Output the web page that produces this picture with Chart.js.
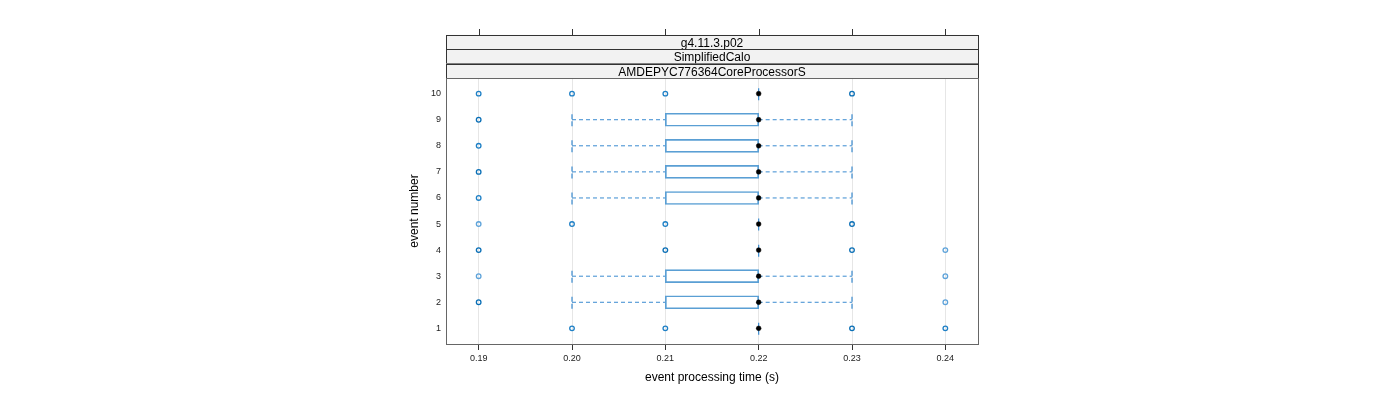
<!DOCTYPE html>
<html>
<head>
<meta charset="utf-8">
<script src="https://cdn.jsdelivr.net/npm/chart.js@4.4.1/dist/chart.umd.min.js"></script>
<style>
  body { margin: 0; background: #fff; }
  #wrap { width: 1400px; height: 400px; }
</style>
</head>
<body>
<div id="wrap"><canvas id="bw"></canvas></div>
<script>
// panel strips, outermost first
const stripLabels = ["g4.11.3.p02", "SimplifiedCalo", "AMDEPYC776364CoreProcessorS"];

const events = [1, 2, 3, 4, 5, 6, 7, 8, 9, 10];
const q1 = [0.22, 0.21, 0.21, 0.22, 0.22, 0.21, 0.21, 0.21, 0.21, 0.22];
const q3 = [0.22, 0.22, 0.22, 0.22, 0.22, 0.22, 0.22, 0.22, 0.22, 0.22];
const medians = [0.22, 0.22, 0.22, 0.22, 0.22, 0.22, 0.22, 0.22, 0.22, 0.22];
const whiskerLow = [0.22, 0.20, 0.20, 0.22, 0.22, 0.20, 0.20, 0.20, 0.20, 0.22];
const whiskerHigh = [0.22, 0.23, 0.23, 0.22, 0.22, 0.23, 0.23, 0.23, 0.23, 0.22];

// outliers: event, value, how many runs land on it
const outlierEvent = [1, 1, 1, 1, 2, 2, 3, 3, 4, 4, 4, 4, 5, 5, 5, 5, 6, 7, 8, 9, 10, 10, 10, 10];
const outlierValue = [0.20, 0.21, 0.23, 0.24, 0.19, 0.24, 0.19, 0.24, 0.19, 0.21, 0.23, 0.24,
                      0.19, 0.20, 0.21, 0.23, 0.19, 0.19, 0.19, 0.19, 0.19, 0.20, 0.21, 0.23];
const outlierCount = [2, 2, 3, 2, 3, 1, 1, 1, 3, 3, 3, 1, 1, 2, 2, 3, 2, 3, 2, 3, 2, 2, 2, 3];

const xTicks = [0.19, 0.20, 0.21, 0.22, 0.23, 0.24];
const xRange = [0.1865, 0.2435];
const yRange = [0.4, 10.6];

const FONT = "'Liberation Sans', Arial, sans-serif";
const STAPLE = 0.25;
const BOX_COL = "#5a9fd4";
const WHISK_COL = "#3a8bd0";

const boxData = [];
const whiskerData = [];
const stapleData = [];
events.forEach((ev, i) => {
  if (q3[i] > q1[i]) boxData.push({ x: [q1[i], q3[i]], y: ev });
  if (whiskerLow[i] < q1[i]) {
    whiskerData.push({ x: whiskerLow[i], y: ev }, { x: q1[i], y: ev }, { x: null, y: null });
  }
  if (whiskerHigh[i] > q3[i]) {
    whiskerData.push({ x: q3[i], y: ev }, { x: whiskerHigh[i], y: ev }, { x: null, y: null });
  }
  const ends = whiskerLow[i] === whiskerHigh[i] ? [whiskerLow[i]] : [whiskerLow[i], whiskerHigh[i]];
  ends.forEach(w => {
    stapleData.push({ x: w, y: ev - STAPLE }, { x: w, y: ev + STAPLE }, { x: null, y: null });
  });
});

const outlierColor = c => (c >= 3 ? "#0a6fb6" : c === 2 ? "#1f80c6" : "#5ea3da");

const panelDecor = {
  id: "panelDecor",
  afterDraw(chart) {
    const { ctx, chartArea: a } = chart;
    const xs = chart.scales.x;
    const sh = 14.4;
    const top = a.top - sh * stripLabels.length;
    ctx.save();
    ctx.lineWidth = 1;
    stripLabels.forEach((lab, i) => {
      const y0 = top + i * sh;
      ctx.fillStyle = "#f2f2f2";
      ctx.fillRect(a.left, y0, a.right - a.left, sh);
      ctx.strokeStyle = "#333";
      ctx.strokeRect(Math.round(a.left) + 0.5, Math.round(y0) + 0.5, Math.round(a.right - a.left), Math.round(sh));
      ctx.fillStyle = "#000";
      ctx.font = "12px " + FONT;
      ctx.textAlign = "center";
      ctx.textBaseline = "middle";
      ctx.fillText(lab, (a.left + a.right) / 2, y0 + sh / 2 + 1.5);
    });
    ctx.strokeStyle = "#666";
    ctx.strokeRect(Math.round(a.left) + 0.5, Math.round(a.top) + 0.5,
                   Math.round(a.right - a.left), Math.round(a.bottom - a.top));
    ctx.strokeStyle = "#333";
    ctx.beginPath();
    xTicks.forEach(t => {
      const px = Math.round(xs.getPixelForValue(t)) + 0.5;
      ctx.moveTo(px, Math.round(top) - 6);
      ctx.lineTo(px, Math.round(top));
    });
    ctx.stroke();
    ctx.restore();
  }
};

new Chart(document.getElementById("bw"), {
  type: "scatter",
  data: {
    datasets: [
      {
        label: "outliers",
        data: outlierValue.map((v, i) => ({ x: v, y: outlierEvent[i] })),
        pointRadius: 2.3,
        pointBorderWidth: 1.3,
        pointBackgroundColor: "rgba(255,255,255,0)",
        pointBorderColor: outlierCount.map(outlierColor),
      },
      {
        label: "median",
        data: medians.map((m, i) => ({ x: m, y: events[i] })),
        pointRadius: 2.4,
        pointBorderWidth: 0.5,
        pointBackgroundColor: "#000",
        pointBorderColor: "#000",
      },
      {
        label: "box",
        type: "bar",
        indexAxis: "y",
        data: boxData,
        barThickness: 13,
        grouped: false,
        backgroundColor: "rgba(255,255,255,0)",
        borderColor: BOX_COL,
        borderWidth: 1,
        borderSkipped: false,
      },
      {
        label: "whiskers",
        data: whiskerData,
        showLine: true,
        spanGaps: false,
        pointRadius: 0,
        borderColor: WHISK_COL,
        borderWidth: 1,
        borderDash: [4, 3],
      },
      {
        label: "staples",
        data: stapleData,
        showLine: true,
        spanGaps: false,
        pointRadius: 0,
        borderColor: WHISK_COL,
        borderWidth: 1.2,
        borderDash: [5, 2],
      },
    ],
  },
  options: {
    responsive: true,
    maintainAspectRatio: false,
    animation: false,
    layout: { padding: { left: 403, right: 422, top: 78, bottom: 15 } },
    plugins: { legend: { display: false }, tooltip: { enabled: false } },
    scales: {
      x: {
        type: "linear",
        min: xRange[0],
        max: xRange[1],
        offset: false,
        afterBuildTicks: s => { s.ticks = xTicks.map(v => ({ value: v })); },
        afterFit: s => { s.height = 41; },
        ticks: {
          callback: v => v.toFixed(2),
          font: { family: FONT, size: 9 },
          color: "#222",
          padding: 3,
          maxRotation: 0,
          autoSkip: false,
        },
        grid: { color: "#e6e6e6", tickColor: "#333", tickLength: 6, lineWidth: 1, offset: false },
        border: { display: false },
        title: {
          display: true,
          text: "event processing time (s)",
          font: { family: FONT, size: 12 },
          color: "#000",
          padding: { top: 0, bottom: 0 },
        },
      },
      y: {
        type: "linear",
        min: yRange[0],
        max: yRange[1],
        offset: false,
        afterBuildTicks: s => { s.ticks = events.map(v => ({ value: v })); },
        afterFit: s => { s.width = 43; },
        ticks: {
          font: { family: FONT, size: 9 },
          color: "#222",
          padding: 5,
          autoSkip: false,
        },
        grid: { display: false, drawTicks: false, tickLength: 0, offset: false },
        border: { display: false },
        title: {
          display: true,
          text: "event number",
          font: { family: FONT, size: 12 },
          color: "#000",
          padding: { top: 4, bottom: 0 },
        },
      },
    },
  },
  plugins: [panelDecor],
});
</script>
</body>
</html>
